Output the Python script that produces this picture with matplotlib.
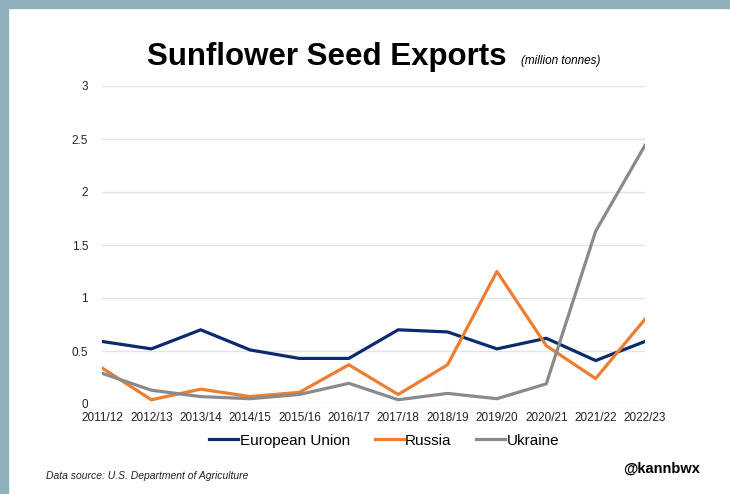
import matplotlib.pyplot as plt
from matplotlib.patches import Rectangle

plt.rcParams['font.family'] = ['Liberation Sans', 'DejaVu Sans']

# marketing years and exports (million tonnes)
years = ['2011/12', '2012/13', '2013/14', '2014/15', '2015/16', '2016/17',
         '2017/18', '2018/19', '2019/20', '2020/21', '2021/22', '2022/23']
eu = [0.59, 0.52, 0.70, 0.51, 0.43, 0.43, 0.70, 0.68, 0.52, 0.62, 0.41, 0.59]
russia = [0.34, 0.04, 0.14, 0.07, 0.11, 0.37, 0.09, 0.37, 1.25, 0.55, 0.24, 0.80]
ukraine = [0.29, 0.13, 0.07, 0.05, 0.09, 0.195, 0.04, 0.10, 0.05, 0.19, 1.63, 2.44]

fig = plt.figure(figsize=(7.3, 4.94), dpi=100)
ax = fig.add_axes([102 / 730, 1 - 404 / 494, 543 / 730, 318 / 494])

x = range(len(years))
ax.plot(x, eu, color='#0d2a6e', lw=2.3, label='European Union')
ax.plot(x, russia, color='#ed7d31', lw=2.3, label='Russia')
ax.plot(x, ukraine, color='#8a8a8a', lw=2.3, label='Ukraine')

ax.set_xlim(0, len(years) - 1)
ax.set_ylim(0, 3)
ax.set_yticks([0, 0.5, 1, 1.5, 2, 2.5, 3])
ax.set_yticklabels(['0', '0.5', '1', '1.5', '2', '2.5', '3'])
ax.set_xticks(list(x))
ax.set_xticklabels(years)
ax.tick_params(axis='both', length=0, labelsize=8.5, colors='#222222')
ax.tick_params(axis='y', pad=10)
ax.tick_params(axis='x', pad=6)
ax.grid(axis='y', color='#e4e4e4', lw=1)
ax.set_axisbelow(True)
for s in ax.spines.values():
    s.set_visible(False)

ax.legend(loc='upper center', bbox_to_anchor=(0.52, -0.05), ncol=3, frameon=False,
          fontsize=11, handlelength=1.9, handletextpad=0.1, columnspacing=1.6)

fig.text(147 / 730, 1 - 57 / 494, 'Sunflower Seed Exports', fontsize=22.5, fontweight='bold',
         va='center', ha='left')
fig.text(521 / 730, 1 - 61 / 494, '(million tonnes)', fontsize=8.5, style='italic',
         va='center', ha='left')
fig.text(46 / 730, 1 - 476 / 494, 'Data source: U.S. Department of Agriculture', fontsize=7.5,
         style='italic', va='center', ha='left', color='#222222')
fig.text(700 / 730, 1 - 469 / 494, '@kannbwx', fontsize=10.5, fontweight='bold',
         va='center', ha='right')

# light blue-grey frame on the top and left edges
border = '#8fb1be'
fig.patches.append(Rectangle((0, 1 - 8 / 494), 1, 8 / 494, transform=fig.transFigure,
                             color=border, zorder=-1))
fig.patches.append(Rectangle((0, 0), 8 / 730, 1, transform=fig.transFigure,
                             color=border, zorder=-1))

fig.savefig('out.png', dpi=100)
